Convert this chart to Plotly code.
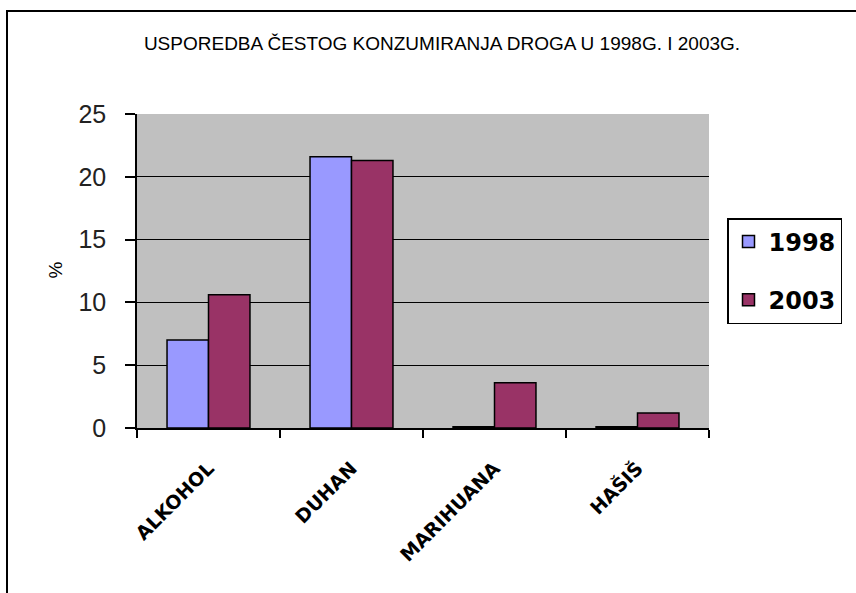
import plotly.graph_objects as go

categories = ["ALKOHOL", "DUHAN", "MARIHUANA", "HAŠIŠ"]
values_1998 = [7.0, 21.6, 0.1, 0.1]
values_2003 = [10.6, 21.3, 3.6, 1.2]
series_names = ["1998", "2003"]
title_text = "USPOREDBA ČESTOG KONZUMIRANJA DROGA U 1998G. I 2003G."
y_ticks = [0, 5, 10, 15, 20, 25]

W, H = 856, 593
L, R, T, B = 137, 856 - 709, 114, 593 - 428
pw, ph = W - L - R, H - T - B

def px_x(x):
    return (x - L) / pw

def px_y(y):
    return (H - B - y) / ph

fig = go.Figure()
fig.add_trace(go.Bar(x=categories, y=values_1998, name=series_names[0],
                     legendgroup="a",
                     marker=dict(color="#9999FF", line=dict(color="black", width=1.5))))
fig.add_trace(go.Bar(x=categories, y=values_2003, name=series_names[1],
                     legendgroup="b",
                     marker=dict(color="#993366", line=dict(color="black", width=1.5))))

fig.update_layout(
    width=W, height=H,
    margin=dict(l=L, r=R, t=T, b=B, pad=0),
    paper_bgcolor="white",
    plot_bgcolor="#C0C0C0",
    barmode="group",
    bargap=0.42,
    bargroupgap=0,
    title=dict(text=title_text, x=442 / W, xref="container", xanchor="center",
               y=1 - 43 / H, yref="container", yanchor="middle",
               font=dict(family="Liberation Sans, Arial", size=19, color="black")),
    legend=dict(x=px_x(727), xanchor="left", y=px_y(218), yanchor="top",
                bordercolor="black", borderwidth=1.5, bgcolor="white",
                font=dict(family="DejaVu Sans", size=24, color="black", weight="bold"),
                tracegroupgap=24, traceorder="grouped", itemwidth=30),
    font=dict(family="Liberation Sans, Arial", color="black"),
    showlegend=True,
)

fig.update_yaxes(range=[0, 25], tickvals=y_ticks, showgrid=True,
                 gridcolor="black", gridwidth=1.2,
                 showline=True, linecolor="black", linewidth=1.5,
                 ticks="outside", ticklen=10, tickcolor="black", tickwidth=1.5,
                 ticklabelstandoff=14,
                 tickfont=dict(family="Liberation Sans, Arial", size=25, color="#222222"),
                 zeroline=False)
fig.update_xaxes(showline=True, linecolor="black", linewidth=1.5,
                 ticks="outside", ticklen=8, tickcolor="black", tickwidth=1.5,
                 tickson="boundaries", tickangle=-45, ticklabelstandoff=20,
                 tickfont=dict(family="DejaVu Sans", size=19, color="black", weight="bold"),
                 showgrid=False)

fig.add_annotation(text="%", xref="paper", yref="paper", x=px_x(42), y=px_y(270),
                   showarrow=False, textangle=-90,
                   font=dict(family="Liberation Sans, Arial", size=19, color="black"))

# outer chart frame
fig.add_shape(type="rect", xref="paper", yref="paper",
              x0=px_x(7), y0=px_y(620), x1=px_x(880), y1=px_y(11),
              line=dict(color="black", width=2), layer="below")

fig.write_html("out.html")
